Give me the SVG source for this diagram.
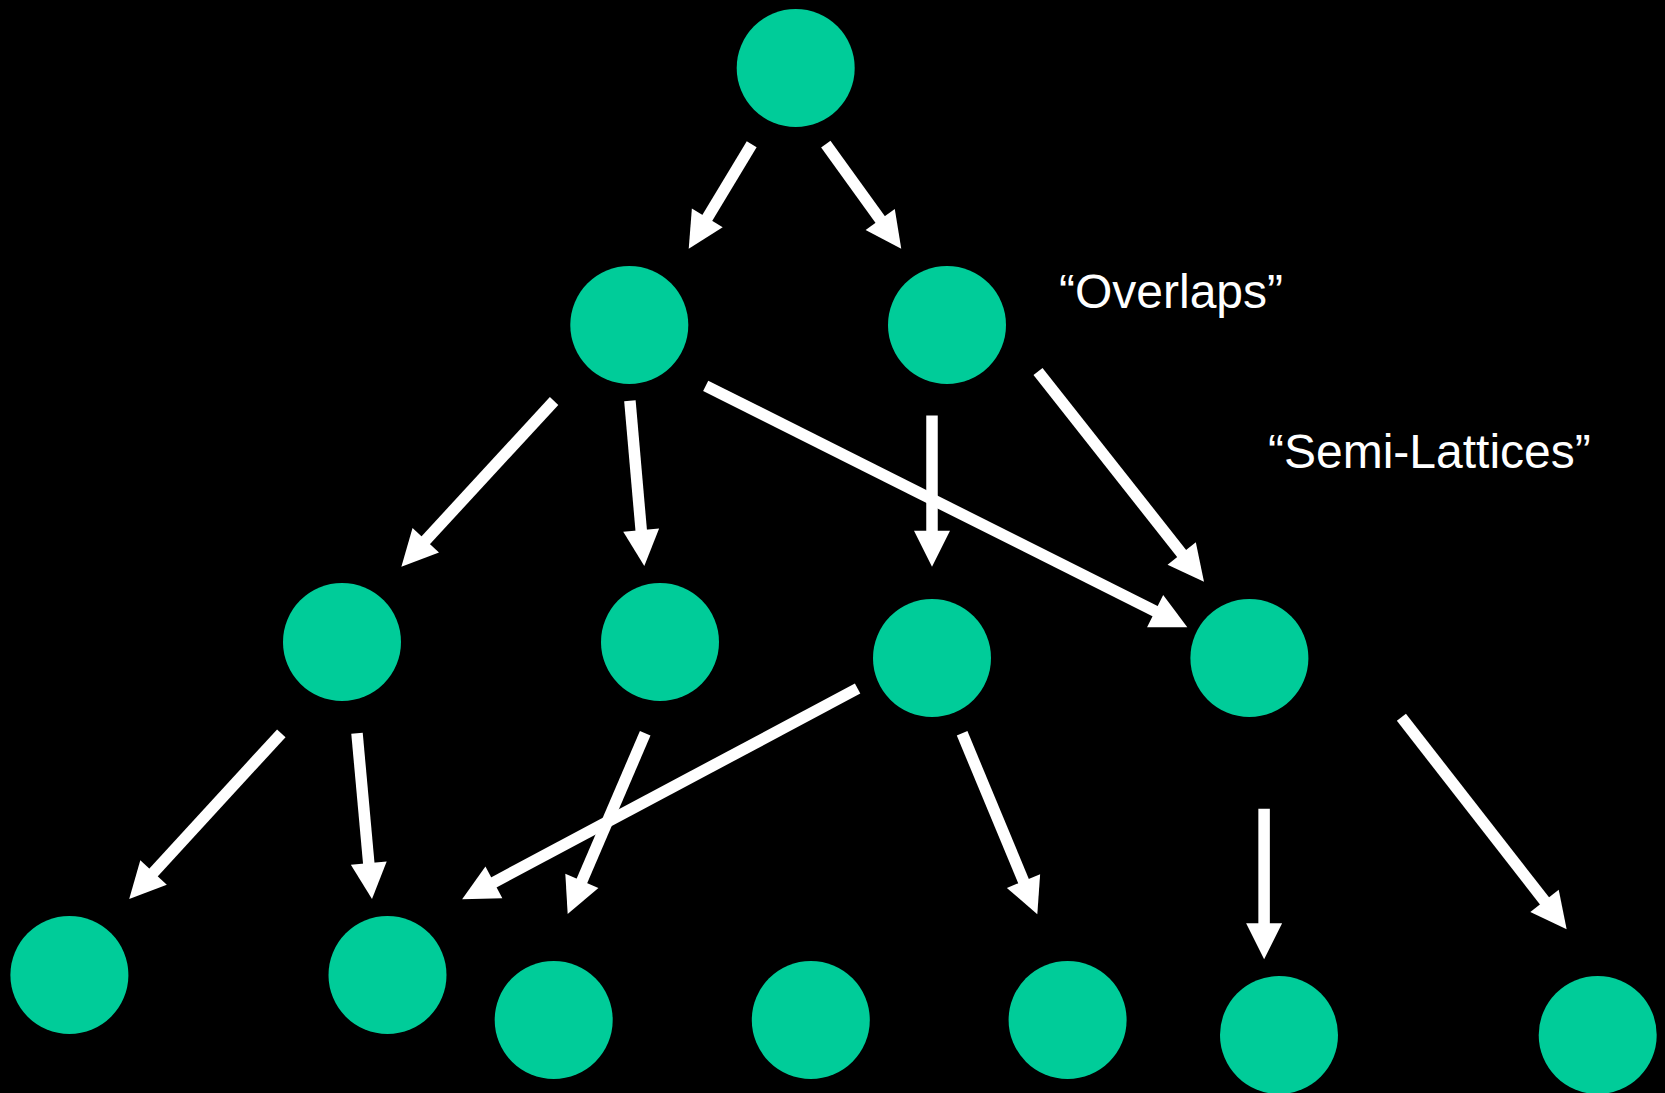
<svg xmlns="http://www.w3.org/2000/svg" width="1665" height="1093" viewBox="0 0 1665 1093">
  <style>
    .node { fill: #00CC99; }
    .edge { stroke: #FFFFFF; stroke-width: 11.5; fill: none; stroke-linecap: butt; marker-end: url(#head); }
    .label { fill: #FFFFFF; font-family: "Liberation Sans", Arial, sans-serif; font-size: 48px; }
  </style>
  <defs>
    <!-- solid triangular arrowhead, 36 x 36, line end sits 6px inside its base -->
    <marker id="head" markerUnits="userSpaceOnUse" markerWidth="36" markerHeight="36" refX="6" refY="18" orient="auto" overflow="visible">
      <path d="M0,0 L36,18 L0,36 Z" fill="#FFFFFF"/>
    </marker>
  </defs>

  <rect x="0" y="0" width="1665" height="1093" fill="#000000"/>

  <g id="connectors">
    <line class="edge" x1="751.7" y1="144.2" x2="704.2" y2="223"/>
    <line class="edge" x1="825.8" y1="144.2" x2="883.7" y2="224.4"/>
    <line class="edge" x1="554.1" y1="401" x2="421.7" y2="544.6"/>
    <line class="edge" x1="629.9" y1="400.7" x2="641.7" y2="536.1"/>
    <line class="edge" x1="705.7" y1="385.8" x2="1160.5" y2="613.9"/>
    <line class="edge" x1="932" y1="415.5" x2="932" y2="536.7"/>
    <line class="edge" x1="1038" y1="371.5" x2="1185.4" y2="558.2"/>
    <line class="edge" x1="281.3" y1="733.3" x2="149.5" y2="876.9"/>
    <line class="edge" x1="357" y1="733.3" x2="369.3" y2="869.1"/>
    <line class="edge" x1="645.2" y1="733.3" x2="579.5" y2="886.4"/>
    <line class="edge" x1="857.6" y1="688.5" x2="488.6" y2="885.2"/>
    <line class="edge" x1="962.1" y1="733.3" x2="1025.8" y2="886.6"/>
    <line class="edge" x1="1264.1" y1="808.7" x2="1264.1" y2="929.3"/>
    <line class="edge" x1="1401.4" y1="717.3" x2="1548.2" y2="905.6"/>
  </g>

  <g id="root"><circle class="node" cx="795.7" cy="68" r="59"/></g>
  <g id="n1a"><circle class="node" cx="629.3" cy="325" r="59"/></g>
  <g id="n1b"><circle class="node" cx="947" cy="325" r="59"/></g>
  <g id="n2a"><circle class="node" cx="342" cy="642" r="59"/></g>
  <g id="n2b"><circle class="node" cx="660" cy="642" r="59"/></g>
  <g id="n2c"><circle class="node" cx="932" cy="658" r="59"/></g>
  <g id="n2d"><circle class="node" cx="1249.4" cy="658" r="59"/></g>
  <g id="n3a"><circle class="node" cx="69.4" cy="975" r="59"/></g>
  <g id="n3b"><circle class="node" cx="387.5" cy="975" r="59"/></g>
  <g id="n3c"><circle class="node" cx="553.7" cy="1020" r="59"/></g>
  <g id="n3d"><circle class="node" cx="810.8" cy="1020" r="59"/></g>
  <g id="n3e"><circle class="node" cx="1067.6" cy="1020" r="59"/></g>
  <g id="n3f"><circle class="node" cx="1279" cy="1035" r="59"/></g>
  <g id="n3g"><circle class="node" cx="1597.7" cy="1035" r="59"/></g>

  <g id="labels">
    <text class="label" x="1059" y="308">“Overlaps”</text>
    <text class="label" x="1268" y="468">“Semi-Lattices”</text>
  </g>
</svg>
